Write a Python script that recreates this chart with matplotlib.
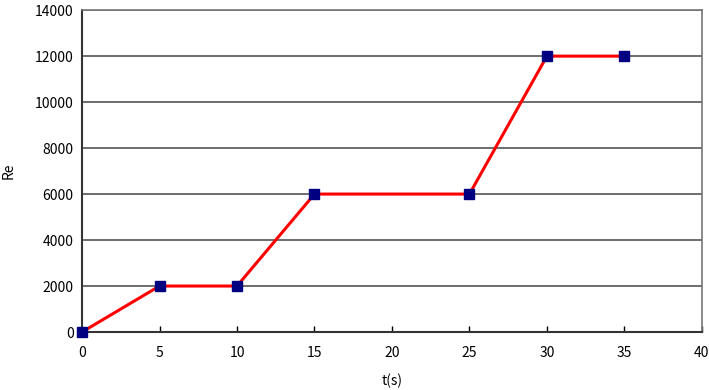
import matplotlib
matplotlib.use("Agg")
import matplotlib.pyplot as plt

t_values = [0, 5, 10, 15, 25, 30, 35]
re_values = [0, 2000, 2000, 6000, 6000, 12000, 12000]
x_ticks = [0, 5, 10, 15, 20, 25, 30, 35, 40]
y_ticks = [0, 2000, 4000, 6000, 8000, 10000, 12000, 14000]

plt.rcParams["font.family"] = ["Noto Sans CJK JP", "DejaVu Sans"]

fig = plt.figure(figsize=(7.09, 3.9), dpi=100)
ax = fig.add_axes([0.1157, 0.1487, 0.8743, 0.8253])

ax.plot(t_values, re_values, color="#ff0000", linewidth=2.2, zorder=3, clip_on=False)
ax.plot(t_values, re_values, linestyle="none", marker="s", markersize=7,
        color="#000080", zorder=4, clip_on=False)

ax.set_xlim(0, 40)
ax.set_ylim(0, 14000)
ax.set_xticks(x_ticks)
ax.set_yticks(y_ticks)
ax.tick_params(axis="x", direction="in", length=4, width=1, labelsize=10, pad=10)
ax.tick_params(axis="y", length=0, labelsize=10, pad=6)

ax.yaxis.grid(True, color="#555555", linewidth=1.2)
ax.set_axisbelow(True)

for side in ["left", "bottom"]:
    ax.spines[side].set_color("#333333")
    ax.spines[side].set_linewidth(1.5)
for side in ["right", "top"]:
    ax.spines[side].set_color("#777777")
    ax.spines[side].set_linewidth(1.2)

ax.set_xlabel("t(s)", fontsize=10, labelpad=10)
ax.set_ylabel("Re", fontsize=10, labelpad=14)

fig.savefig("out.png", dpi=100)
